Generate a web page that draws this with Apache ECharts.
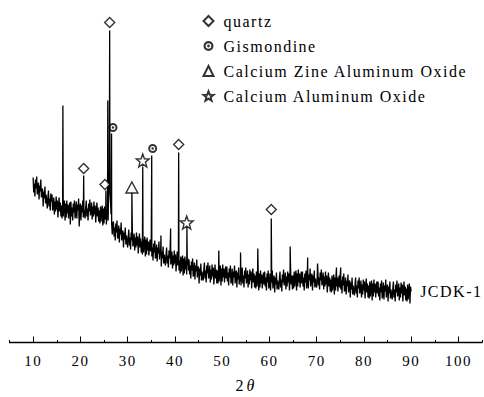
<!DOCTYPE html>
<html>
<head>
<meta charset="utf-8">
<script src="https://cdn.jsdelivr.net/npm/echarts@6/dist/echarts.min.js"></script>
<style>
  html, body { margin: 0; padding: 0; background: #fff; }
  #xrdChart { width: 484px; height: 397px; }
  /* the original figure uses loosely spaced serif text */
  #xrdChart text { letter-spacing: 1.5px; font-family: 'Liberation Serif', serif !important; }
</style>
</head>
<body>
<div id="xrdChart"></div>
<script>
// scan: 2theta from 10 to 90, step 0.125 (counts, a.u.), one row per degree
const scanStart = 10;
const scanStep = 0.125;
const counts = [
  165, 150, 159, 146, 163, 154, 166, 148,
  148, 160, 143, 157, 151, 163, 145, 154,
  153, 136, 151, 144, 156, 139, 148, 142,
  134, 145, 152, 136, 144, 132, 149, 141,
  148, 132, 136, 145, 128, 141, 131, 146,
  133, 142, 125, 136, 145, 131, 140, 126,
  137, 124, 141, 126, 136, 142, 122, 139,
  125, 142, 129, 138, 124, 134, 140, 118,
  141, 126, 135, 122, 139, 130, 142, 124,
  129, 141, 124, 138, 132, 144, 116, 135,
  139, 122, 137, 130, 142, 125, 134, 128,
  124, 135, 142, 126, 134, 122, 139, 131,
  143, 127, 131, 140, 123, 136, 126, 141,
  128, 137, 120, 131, 140, 126, 135, 121,
  132, 119, 136, 121, 131, 137, 117, 134,
  119, 136, 123, 132, 118, 128, 134, 122,
  160, 170, 150, 140, 128, 118, 108, 119,
  121, 106, 115, 102, 119, 110, 122, 104,
  105, 117, 100, 114, 108, 120, 102, 111,
  112, 95, 110, 103, 115, 98, 107, 101,
  95, 106, 113, 97, 105, 93, 110, 102,
  112, 96, 100, 109, 92, 105, 95, 110,
  97, 106, 89, 100, 109, 95, 104, 90,
  101, 88, 105, 90, 100, 106, 86, 103,
  88, 105, 92, 101, 87, 97, 103, 91,
  101, 86, 95, 82, 99, 90, 102, 84,
  86, 98, 81, 95, 89, 101, 83, 92,
  93, 76, 91, 84, 96, 79, 88, 82,
  77, 88, 95, 79, 87, 75, 92, 84,
  94, 78, 82, 91, 74, 87, 77, 92,
  79, 88, 71, 82, 91, 77, 86, 72,
  82, 69, 86, 71, 81, 87, 67, 84,
  69, 86, 73, 82, 68, 78, 84, 72,
  83, 68, 77, 64, 81, 72, 84, 66,
  68, 80, 63, 77, 71, 83, 65, 74,
  76, 59, 74, 67, 79, 62, 71, 65,
  62, 73, 80, 64, 72, 60, 77, 69,
  80, 64, 68, 77, 60, 73, 63, 78,
  66, 75, 58, 69, 78, 64, 73, 59,
  72, 59, 76, 61, 71, 77, 57, 74,
  61, 78, 65, 74, 60, 70, 76, 64,
  76, 61, 70, 57, 74, 65, 77, 59,
  62, 74, 57, 71, 65, 77, 59, 68,
  72, 55, 70, 63, 75, 58, 67, 61,
  57, 68, 75, 59, 67, 55, 72, 64,
  75, 59, 63, 72, 55, 68, 58, 73,
  62, 71, 54, 65, 74, 60, 69, 55,
  67, 54, 71, 56, 66, 72, 52, 69,
  55, 72, 59, 68, 54, 64, 70, 58,
  71, 56, 65, 52, 69, 60, 72, 54,
  57, 69, 52, 66, 60, 72, 54, 63,
  67, 50, 65, 58, 70, 53, 62, 56,
  53, 64, 71, 55, 63, 51, 68, 60,
  73, 57, 61, 70, 53, 66, 56, 71,
  60, 69, 52, 63, 72, 58, 67, 53,
  67, 54, 71, 56, 66, 72, 52, 69,
  56, 73, 60, 69, 55, 65, 71, 59,
  71, 56, 65, 52, 69, 60, 72, 54,
  59, 71, 54, 68, 62, 74, 56, 65,
  69, 52, 67, 60, 72, 55, 64, 58,
  55, 66, 73, 57, 65, 53, 70, 62,
  73, 57, 61, 70, 53, 66, 56, 71,
  58, 67, 50, 61, 70, 56, 65, 51,
  63, 50, 67, 52, 62, 68, 48, 65,
  52, 69, 56, 65, 51, 61, 67, 55,
  68, 53, 62, 49, 66, 57, 69, 51,
  53, 65, 48, 62, 56, 68, 50, 59,
  62, 45, 60, 53, 65, 48, 57, 51,
  47, 58, 65, 49, 57, 45, 62, 54,
  65, 49, 53, 62, 45, 58, 48, 63,
  52, 61, 44, 55, 64, 50, 59, 45,
  57, 44, 61, 46, 56, 62, 42, 59,
  46, 63, 50, 59, 45, 55, 61, 49,
  61, 46, 55, 42, 59, 50, 62, 44,
  48, 60, 43, 57, 51, 63, 45, 54,
  58, 41, 56, 49, 61, 44, 53, 47,
  43, 54, 61, 45, 53, 41, 58, 50,
  62, 46, 50, 59, 42, 55, 45, 60,
  49, 58, 41, 52, 61, 47, 56, 42,
  54, 41, 58, 43, 53, 59, 39, 56,
  51
];

// diffraction peaks (position, top count)
const peakPos = [16.3, 20.7, 25.4, 25.8, 26.2, 26.6, 30.9, 33.2, 35.1, 37.05, 39.1,
  40.8, 42.55, 49.3, 53.9, 57.55, 60.4, 64.4, 68.1, 70.2, 74.2, 75.1];
const peakCounts = [237, 167, 152, 242, 312, 209, 150, 176, 187, 107, 114,
  190, 115, 92, 90, 94, 124, 96, 85, 79, 75, 75];

// phase markers
const quartzMarks = [[20.7, 174], [25.2, 158], [26.2, 320], [40.8, 198], [60.4, 133]];
const gismondineMarks = [[26.9, 215], [35.3, 194]];
const czaoMarks = [[30.9, 155]];
const caoMarks = [[33.2, 182], [42.5, 120]];

const xTicks = [10, 20, 30, 40, 50, 60, 70, 80, 90, 100];
const sampleName = 'JCDK-1';

const serif = 'Liberation Serif, serif';
const bullseye = 'path://M50,0 A50,50 0 1,1 50,100 A50,50 0 1,1 50,0 Z ' +
  'M50,22 A28,28 0 1,0 50,78 A28,28 0 1,0 50,22 Z ' +
  'M50,36 A14,14 0 1,1 50,64 A14,14 0 1,1 50,36 Z';
const star = 'path://M50,0 L62.3,33 L97.55,34.55 L69.9,56.5 L79.39,90.45 L50,71 ' +
  'L20.61,90.45 L30.1,56.5 L2.45,34.55 L37.7,33 Z';

function buildPattern() {
  const pts = counts.map((c, i) => [scanStart + i * scanStep, c]);
  peakPos.forEach((p, i) => pts.push([p, peakCounts[i]]));
  pts.sort((a, b) => a[0] - b[0]);
  return pts;
}

const chart = echarts.init(document.getElementById('xrdChart'), null, { renderer: 'svg' });

const markerStyle = { color: '#fff', borderColor: '#000', borderWidth: 1.4 };

const option = {
  animation: false,
  textStyle: { fontFamily: serif, color: '#000' },
  grid: [
    // main grid, stretched so that 0..110 spans past the visible axis
    { left: -14.125, right: -21.625, top: 12.5, bottom: 54.5, containLabel: false, outerBoundsMode: 'none' },
    // axis line only, 5..105
    { left: 9.5, right: 2, top: 12.5, bottom: 54.5, containLabel: false, outerBoundsMode: 'none' }
  ],
  xAxis: [
    {
      gridIndex: 0,
      type: 'value',
      min: 0,
      max: 110,
      interval: 10,
      axisLine: { show: false },
      axisTick: { show: true, inside: true, length: 6, lineStyle: { color: '#000', width: 1 } },
      minorTick: { show: true, splitNumber: 2, length: 2.5, lineStyle: { color: '#000', width: 1 } },
      splitLine: { show: false },
      axisLabel: {
        margin: 11,
        fontSize: 15,
        color: '#000',
        fontFamily: serif,
        formatter: v => (xTicks.indexOf(v) >= 0 ? String(v) : '')
      },
      name: '2{t|θ}',
      nameLocation: 'middle',
      nameGap: 35,
      nameTextStyle: {
        fontSize: 16,
        color: '#000',
        fontFamily: serif,
        rich: { t: { fontSize: 16, fontStyle: 'italic', fontFamily: serif, color: '#000', padding: [0, 0, 0, 3] } }
      }
    },
    {
      gridIndex: 1,
      type: 'value',
      min: 5,
      max: 105,
      axisLine: { show: true, lineStyle: { color: '#000', width: 1.3 } },
      axisTick: { show: false },
      axisLabel: { show: false },
      splitLine: { show: false }
    }
  ],
  yAxis: [
    { gridIndex: 0, type: 'value', min: 0, max: 330, show: false },
    { gridIndex: 1, type: 'value', min: 0, max: 330, show: false }
  ],
  legend: {
    orient: 'vertical',
    left: 197.5,
    top: 8,
    itemWidth: 10,
    itemHeight: 10,
    itemGap: 9,
    textStyle: { fontSize: 16, color: '#000', fontFamily: serif, padding: [0, 0, 0, 5] },
    data: ['quartz', 'Gismondine', 'Calcium Zine Aluminum Oxide', 'Calcium Aluminum Oxide']
  },
  series: [
    {
      name: sampleName,
      type: 'line',
      xAxisIndex: 0,
      yAxisIndex: 0,
      data: buildPattern(),
      showSymbol: false,
      symbol: 'none',
      lineStyle: { color: '#000', width: 1.3 },
      endLabel: {
        show: true,
        formatter: sampleName,
        distance: 9,
        fontSize: 16,
        color: '#000',
        fontFamily: serif
      },
      z: 2
    },
    {
      name: 'quartz',
      type: 'scatter',
      data: quartzMarks,
      symbol: 'diamond',
      symbolSize: 10,
      itemStyle: markerStyle,
      z: 3
    },
    {
      name: 'Gismondine',
      type: 'scatter',
      data: gismondineMarks,
      symbol: bullseye,
      symbolSize: 9,
      itemStyle: { color: '#000' },
      z: 3
    },
    {
      name: 'Calcium Zine Aluminum Oxide',
      type: 'scatter',
      data: czaoMarks,
      symbol: 'triangle',
      symbolSize: [12, 11],
      itemStyle: markerStyle,
      z: 3
    },
    {
      name: 'Calcium Aluminum Oxide',
      type: 'scatter',
      data: caoMarks,
      symbol: star,
      symbolSize: 13,
      itemStyle: markerStyle,
      z: 3
    }
  ]
};

chart.setOption(option);
</script>
</body>
</html>
